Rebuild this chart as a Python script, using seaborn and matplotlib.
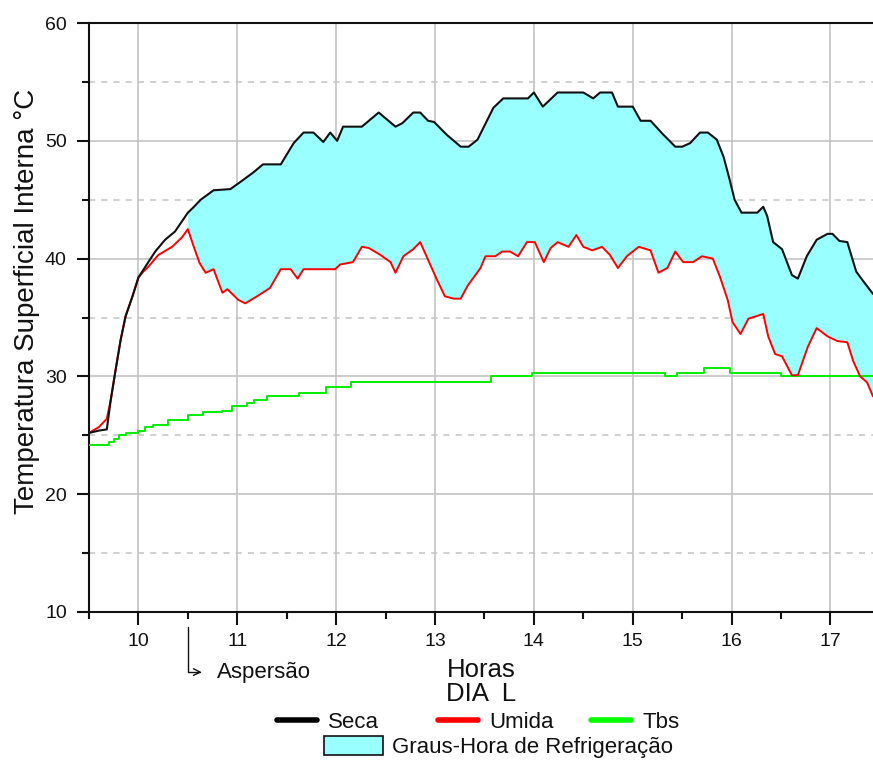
import numpy as np
import pandas as pd
import matplotlib
matplotlib.use("Agg")
import matplotlib.pyplot as plt
import matplotlib.transforms as mtransforms
from matplotlib.lines import Line2D
from matplotlib.patches import Patch
from matplotlib.ticker import MultipleLocator
import seaborn as sns

# ---------------- data ----------------
seca_t = [9.50, 9.60, 9.68, 9.72, 9.77, 9.82, 9.87, 9.94, 10.00, 10.10, 10.17, 10.27,
          10.37, 10.50, 10.55, 10.63, 10.76, 10.93, 11.03, 11.16, 11.26, 11.44, 11.57,
          11.67, 11.77, 11.87, 11.94, 12.01, 12.07, 12.26, 12.43, 12.60, 12.67, 12.78,
          12.85, 12.93, 12.99, 13.12, 13.26, 13.34, 13.43, 13.59, 13.69, 13.94, 14.00,
          14.09, 14.24, 14.50, 14.60, 14.67, 14.79, 14.85, 15.00, 15.08, 15.18, 15.30,
          15.43, 15.50, 15.58, 15.68, 15.76, 15.85, 15.92, 15.98, 16.03, 16.10, 16.26,
          16.32, 16.36, 16.42, 16.51, 16.61, 16.67, 16.76, 16.86, 16.97, 17.02, 17.09,
          17.17, 17.26, 17.33, 17.43]
seca_v = [25.2, 25.4, 25.5, 28.0, 30.6, 33.1, 35.1, 36.8, 38.4, 39.7, 40.6, 41.6,
          42.3, 43.9, 44.3, 45.0, 45.8, 45.9, 46.5, 47.3, 48.0, 48.0, 49.8,
          50.7, 50.7, 49.9, 50.7, 50.0, 51.2, 51.2, 52.4, 51.2, 51.5, 52.4,
          52.4, 51.7, 51.6, 50.5, 49.5, 49.5, 50.1, 52.8, 53.6, 53.6, 54.1,
          52.9, 54.1, 54.1, 53.6, 54.1, 54.1, 52.9, 52.9, 51.7, 51.7, 50.6,
          49.5, 49.5, 49.8, 50.7, 50.7, 50.1, 48.6, 46.7, 45.0, 43.9, 43.9,
          44.4, 43.6, 41.4, 40.8, 38.6, 38.3, 40.2, 41.6, 42.1, 42.1, 41.5,
          41.4, 38.9, 38.1, 37.0]

umida_t = [9.50, 9.60, 9.68, 9.72, 9.77, 9.82, 9.87, 9.94, 10.00, 10.05, 10.10, 10.20,
           10.34, 10.44, 10.50, 10.56, 10.62, 10.68, 10.76, 10.85, 10.90, 11.01, 11.08,
           11.20, 11.33, 11.44, 11.54, 11.61, 11.67, 11.99, 12.04, 12.17, 12.26, 12.33,
           12.45, 12.55, 12.60, 12.68, 12.78, 12.85, 12.93, 13.02, 13.10, 13.19, 13.26,
           13.33, 13.46, 13.51, 13.61, 13.68, 13.76, 13.84, 13.93, 14.01, 14.10, 14.17,
           14.24, 14.35, 14.43, 14.50, 14.59, 14.69, 14.77, 14.85, 14.94, 15.06, 15.18,
           15.26, 15.35, 15.43, 15.51, 15.61, 15.70, 15.81, 15.88, 15.96, 16.01, 16.09,
           16.17, 16.32, 16.37, 16.44, 16.51, 16.61, 16.67, 16.77, 16.86, 16.97, 17.07,
           17.17, 17.23, 17.30, 17.37, 17.43]
umida_v = [25.2, 25.7, 26.4, 28.0, 30.6, 33.1, 35.1, 36.8, 38.4, 38.9, 39.3, 40.3,
           41.0, 41.8, 42.5, 41.0, 39.6, 38.8, 39.1, 37.1, 37.4, 36.5, 36.2,
           36.8, 37.5, 39.1, 39.1, 38.3, 39.1, 39.1, 39.5, 39.7, 41.0, 40.9,
           40.3, 39.7, 38.8, 40.2, 40.8, 41.4, 39.9, 38.2, 36.8, 36.6, 36.6,
           37.7, 39.2, 40.2, 40.2, 40.6, 40.6, 40.2, 41.4, 41.4, 39.7, 40.9,
           41.4, 41.0, 42.0, 41.0, 40.7, 41.0, 40.3, 39.2, 40.2, 41.0, 40.7,
           38.8, 39.2, 40.6, 39.7, 39.7, 40.2, 40.0, 38.5, 36.5, 34.6, 33.6,
           34.9, 35.3, 33.4, 31.9, 31.7, 30.1, 30.1, 32.5, 34.1, 33.4, 33.0,
           32.9, 31.3, 30.0, 29.5, 28.3]

tbs_t = [9.50, 9.70, 9.75, 9.80, 9.87, 10.00, 10.07, 10.15, 10.30, 10.50, 10.65, 10.85,
         10.95, 11.10, 11.17, 11.30, 11.62, 11.90, 12.15, 13.57, 13.98, 15.33, 15.45,
         15.72, 15.98, 16.50, 17.43]
tbs_v = [24.2, 24.4, 24.7, 25.0, 25.2, 25.4, 25.7, 25.9, 26.3, 26.7, 27.0, 27.1,
         27.5, 27.7, 28.0, 28.3, 28.6, 29.1, 29.5, 30.0, 30.3, 30.0, 30.3,
         30.7, 30.3, 30.0, 30.0]

aspersao_t = 10.5
x_ticks = [10, 11, 12, 13, 14, 15, 16, 17]
y_ticks = [10, 20, 30, 40, 50, 60]

# ---------------- style ----------------
sns.set_theme(style="white")
plt.rcParams['font.family'] = ['Liberation Sans', 'DejaVu Sans']

fig = plt.figure(figsize=(8.73, 7.62), dpi=100)
ax = fig.add_axes([89/873, 1 - 612/762, 1 - 89/873, (612 - 23)/762])
ax.set_facecolor('white')

df_seca = pd.DataFrame({'t': seca_t, 'v': seca_v})
df_umida = pd.DataFrame({'t': umida_t, 'v': umida_v})
df_tbs = pd.DataFrame({'t': tbs_t, 'v': tbs_v})

# fill (Graus-Hora) between Seca and Umida after aspersion
st = np.array(seca_t); sv = np.array(seca_v)
ut = np.array(umida_t); uv = np.array(umida_v)
ms = st >= aspersao_t
mu = ut >= aspersao_t
poly_x = np.concatenate([st[ms], ut[mu][::-1]])
poly_y = np.concatenate([sv[ms], uv[mu][::-1]])
ax.fill(poly_x, poly_y, color='#99ffff', lw=0, zorder=2)

sns.lineplot(data=df_tbs, x='t', y='v', ax=ax, color='#00ee00', lw=1.4,
             drawstyle='steps-post', zorder=3, sort=False)
sns.lineplot(data=df_umida, x='t', y='v', ax=ax, color='#ff0000', lw=1.4, zorder=4, sort=False)
sns.lineplot(data=df_seca, x='t', y='v', ax=ax, color='#111111', lw=1.5, zorder=5, sort=False)

ax.set_xlim(9.5, 17.43)
ax.set_ylim(10, 60)
ax.set_xticks(x_ticks)
ax.set_yticks(y_ticks)
ax.xaxis.set_minor_locator(MultipleLocator(0.5))
ax.yaxis.set_minor_locator(MultipleLocator(5))

ax.grid(True, which='major', color='#c4c4c4', lw=1.2, ls='-', zorder=0)
ax.grid(True, which='minor', axis='y', color='#c4c4c4', lw=1.1, ls=(0, (4, 4)), zorder=0)
ax.grid(False, which='minor', axis='x')
ax.set_axisbelow(True)

for side in ['left', 'bottom', 'top']:
    ax.spines[side].set_visible(True)
    ax.spines[side].set_color('#111111')
    ax.spines[side].set_linewidth(1.5)
ax.spines['right'].set_visible(False)

ax.tick_params(axis='both', which='major', direction='out', length=9, width=1.5,
               color='#111111', labelsize=14, labelcolor='#111111', pad=7,
               bottom=True, left=True, top=False, right=False)
ax.tick_params(axis='x', which='major', pad=6)
ax.tick_params(axis='both', which='minor', direction='out', length=5, width=1.5,
               color='#111111', bottom=True, left=True, top=False, right=False)

ax.set_ylabel('Temperatura Superficial Interna °C', fontsize=20, color='#111111')
ax.yaxis.set_label_coords(-0.063, 0.528)
ax.set_xlabel('Horas\nDIA  L', fontsize=18.5, color='#111111', linespacing=1.0, labelpad=6)

# Aspersão marker
trans = mtransforms.blended_transform_factory(ax.transData, ax.transAxes)
ax.annotate('', xy=(aspersao_t + 0.14, -0.102), xytext=(aspersao_t, -0.025),
            xycoords=trans, textcoords=trans, annotation_clip=False,
            arrowprops=dict(arrowstyle='->', lw=1.0, color='#111111',
                            connectionstyle='angle,angleA=90,angleB=0,rad=0',
                            shrinkA=0, shrinkB=0, mutation_scale=12))
ax.text(aspersao_t + 0.29, -0.102, 'Aspersão', transform=trans, va='center',
        ha='left', fontsize=16, color='#111111', clip_on=False)

# legends
leg_kw = dict(frameon=False, fontsize=16, borderpad=0, borderaxespad=0,
              handlelength=1.8, handletextpad=0.5, loc='center left')
entries = [('Seca', '#000000', 277), ('Umida', '#ff0000', 438), ('Tbs', '#00ff00', 591)]
for lab, col, xpx in entries:
    lg = fig.legend(handles=[Line2D([0], [0], color=col, lw=4)], labels=[lab],
                    bbox_to_anchor=(xpx/873, 1 - 722/762), **leg_kw)
    for t in lg.get_texts():
        t.set_color('#111111')
lg = fig.legend(handles=[Patch(facecolor='#99ffff', edgecolor='#111111', lw=1.2)],
                labels=['Graus-Hora de Refrigeração'],
                bbox_to_anchor=(324/873, 1 - 747/762), frameon=False, fontsize=16,
                borderpad=0, borderaxespad=0, handlelength=2.66, handleheight=0.9,
                handletextpad=0.4, loc='center left')
for t in lg.get_texts():
    t.set_color('#111111')

fig.savefig('out.png', dpi=100, facecolor='white')
